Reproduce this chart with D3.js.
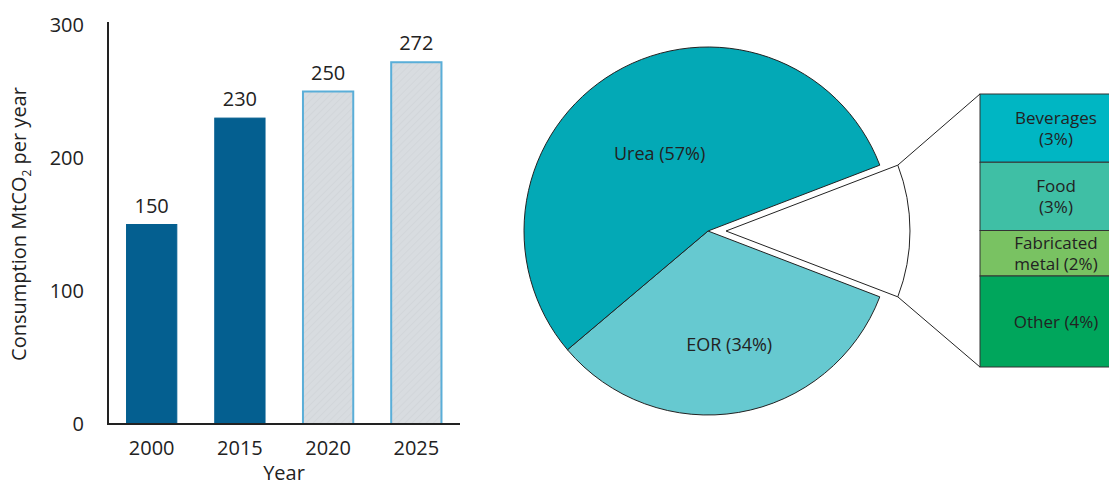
<!DOCTYPE html>
<html>
<head>
<meta charset="utf-8">
<script src="https://cdn.jsdelivr.net/npm/d3@7"></script>
<style>
body { margin: 0; background: #fff; }
text { font-family: "Open Sans", "Noto Sans", sans-serif; fill: #222; }
</style>
</head>
<body>
<svg id="chart" width="1109" height="485"></svg>
<script>
// bar chart data
var years = ["2000", "2015", "2020", "2025"];
var consumption = [150, 230, 250, 272];
var projected = [false, false, true, true];
var yTicks = [0, 100, 200, 300];

// pie data
var pieNames = ["Urea", "EOR"];
var pieValues = [57, 34];
var pieColors = ["#03a9b6", "#66c9d0"];

// breakdown of the exploded slice
var otherNames = [["Beverages", "(3%)"], ["Food", "(3%)"], ["Fabricated", "metal (2%)"], ["Other (4%)"]];
var otherValues = [3, 3, 2, 4];
var otherColors = ["#00b6c3", "#3fbfa5", "#79c262", "#00a65c"];

var svg = d3.select("#chart");

// hatch for the projected bars
var defs = svg.append("defs");
var pat = defs.append("pattern")
    .attr("id", "hatch").attr("patternUnits", "userSpaceOnUse")
    .attr("width", 5).attr("height", 5)
    .attr("patternTransform", "rotate(45)");
pat.append("rect").attr("width", 5).attr("height", 5).attr("fill", "#d8dce0");
pat.append("line").attr("x1", 0).attr("y1", 0).attr("x2", 0).attr("y2", 5)
    .attr("stroke", "#d0d4d9").attr("stroke-width", 1.5);

// ---- bar chart ----
var x = d3.scaleBand().domain(years).range([108, 460])
    .paddingInner(0.43).paddingOuter(0.21);
var y = d3.scaleLinear().domain([0, 300]).range([424, 25]);

var bars = svg.append("g");
years.forEach(function(yr, i) {
  var v = consumption[i];
  bars.append("rect")
    .attr("x", x(yr)).attr("width", x.bandwidth())
    .attr("y", y(v)).attr("height", y(0) - y(v))
    .attr("fill", projected[i] ? "url(#hatch)" : "#045f90")
    .attr("stroke", projected[i] ? "#5aaed8" : "#045f90")
    .attr("stroke-width", projected[i] ? 2 : 1);
  bars.append("text")
    .attr("x", x(yr) + x.bandwidth() / 2).attr("y", y(v) - 12)
    .attr("text-anchor", "middle").attr("font-size", 20)
    .text(v);
});

// axes
var yAxis = svg.append("g").attr("transform", "translate(108,0)")
    .call(d3.axisLeft(y).tickValues(yTicks).tickSize(0).tickPadding(24));
yAxis.select(".domain").remove();
yAxis.selectAll("text").attr("font-size", 20).attr("fill", "#222")
    .style("font-family", "'Open Sans', sans-serif");

var xAxis = svg.append("g").attr("transform", "translate(0,424)")
    .call(d3.axisBottom(x).tickSize(0).tickPadding(17));
xAxis.select(".domain").remove();
xAxis.selectAll("text").attr("font-size", 20).attr("fill", "#222")
    .style("font-family", "'Open Sans', sans-serif");

svg.append("line").attr("x1", 108).attr("x2", 108).attr("y1", 22).attr("y2", 425)
  .attr("stroke", "#222").attr("stroke-width", 2);
svg.append("line").attr("x1", 107).attr("x2", 460).attr("y1", 424).attr("y2", 424)
  .attr("stroke", "#222").attr("stroke-width", 2);

var yl = svg.append("text")
    .attr("transform", "translate(26,224) rotate(-90)")
    .attr("text-anchor", "middle").attr("font-size", 20);
yl.append("tspan").text("Consumption MtCO");
yl.append("tspan").attr("font-size", 12).attr("dy", 5).text("2");
yl.append("tspan").attr("dy", -5).text(" per year");

svg.append("text").attr("x", 284).attr("y", 480)
  .attr("text-anchor", "middle").attr("font-size", 20).text("Year");

// ---- pie ----
var cx = 708, cy = 231, r = 184;
var otherTotal = d3.sum(otherValues);
var slices = [{name: "other", value: otherTotal, color: "#fff"}];
pieNames.forEach(function(n, i) {
  slices.push({name: n, value: pieValues[i], color: pieColors[i]});
});
// EOR first clockwise after the exploded slice, then Urea
slices = [slices[0], slices[2], slices[1]];

var total = d3.sum(slices, function(d) { return d.value; });
var otherAngle = otherTotal / total * 2 * Math.PI;
var pie = d3.pie().sort(null).value(function(d) { return d.value; })
    .startAngle(Math.PI / 2 - otherAngle / 2)
    .endAngle(Math.PI / 2 - otherAngle / 2 + 2 * Math.PI);
var arcs = pie(slices);
var arc = d3.arc().innerRadius(0).outerRadius(r);
var labelArc = d3.arc().innerRadius(0).outerRadius(r * 1.12);

var explode = 18;
var pg = svg.append("g").attr("transform", "translate(" + cx + "," + cy + ")");
arcs.forEach(function(a) {
  var dx = a.data.name === "other" ? explode : 0;
  pg.append("path").attr("d", arc(a))
    .attr("transform", "translate(" + dx + ",0)")
    .attr("fill", a.data.color).attr("stroke", "#222").attr("stroke-width", 1);
  if (a.data.name !== "other") {
    var c = labelArc.centroid(a);
    pg.append("text").attr("x", c[0] + 4).attr("y", c[1] + 18)
      .attr("text-anchor", "middle").attr("font-size", 18)
      .text(a.data.name + " (" + a.data.value + "%)");
  }
});

// ---- breakdown box ----
var boxX = 980, boxW = 152;
var by = d3.scaleLinear().domain([0, otherTotal]).range([94, 367]);
var cum = 0;
var bg = svg.append("g");
otherValues.forEach(function(v, i) {
  var y0 = by(cum), y1 = by(cum + v);
  cum += v;
  bg.append("rect").attr("x", boxX).attr("y", y0)
    .attr("width", boxW).attr("height", y1 - y0)
    .attr("fill", otherColors[i]).attr("stroke", "#333").attr("stroke-width", 1);
  var lines = otherNames[i];
  var mid = (y0 + y1) / 2;
  lines.forEach(function(t, j) {
    bg.append("text").attr("x", boxX + boxW / 2)
      .attr("y", mid + 6 + (j - (lines.length - 1) / 2) * 21)
      .attr("text-anchor", "middle").attr("font-size", 17).text(t);
  });
});

// connectors from exploded slice corners to box
var oa = arcs[0];
var p1 = [cx + explode + r * Math.sin(oa.startAngle), cy - r * Math.cos(oa.startAngle)];
var p2 = [cx + explode + r * Math.sin(oa.endAngle), cy - r * Math.cos(oa.endAngle)];
svg.append("line").attr("x1", p1[0]).attr("y1", p1[1]).attr("x2", boxX).attr("y2", by(0))
  .attr("stroke", "#222");
svg.append("line").attr("x1", p2[0]).attr("y1", p2[1]).attr("x2", boxX).attr("y2", by(otherTotal))
  .attr("stroke", "#222");
</script>
</body>
</html>
